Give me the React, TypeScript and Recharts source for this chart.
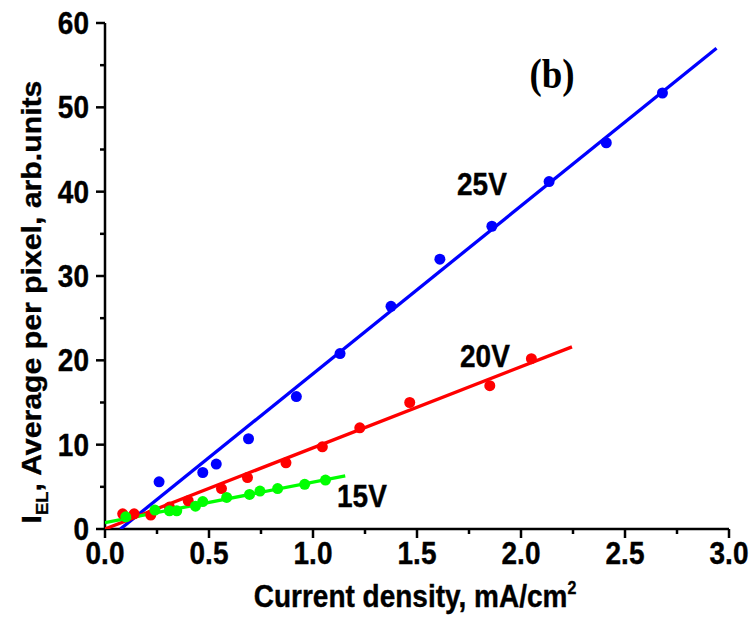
import React from 'react'
import { ScatterChart, Scatter, XAxis, YAxis } from 'recharts'

const blueX = [0.26, 0.47, 0.535, 0.69, 0.92, 1.13, 1.375, 1.61, 1.86, 2.135, 2.41, 2.68]
const blueY = [5.6, 6.7, 7.7, 10.7, 15.7, 20.8, 26.4, 32.0, 35.9, 41.2, 45.8, 51.7]
const redX = [0.085, 0.14, 0.22, 0.31, 0.4, 0.56, 0.685, 0.87, 1.045, 1.225, 1.465, 1.85, 2.05]
const redY = [1.8, 1.8, 1.65, 2.6, 3.35, 4.8, 6.1, 7.85, 9.75, 12.0, 15.0, 17.0, 20.2]
const greenX = [0.1, 0.24, 0.31, 0.345, 0.435, 0.47, 0.585, 0.695, 0.745, 0.83, 0.96, 1.06]
const greenY = [1.45, 2.25, 2.15, 2.15, 2.7, 3.25, 3.75, 4.1, 4.5, 4.8, 5.3, 5.8]

// linear fits (end points)
const blueFitX = [0.074, 2.94]
const blueFitY = [0, 57.0]
const redFitX = [0, 2.245]
const redFitY = [0, 21.6]
const greenFitX = [0, 1.155]
const greenFitY = [0.75, 6.3]

const xTicks = [0, 0.25, 0.5, 0.75, 1, 1.25, 1.5, 1.75, 2, 2.25, 2.5, 2.75, 3]
const yTicks = [0, 5, 10, 15, 20, 25, 30, 35, 40, 45, 50, 55, 60]

const zip = (xs: number[], ys: number[]) => xs.map((x, i) => ({ x, y: ys[i] }))

const FONT = "'Liberation Sans', Arial, sans-serif"
const SY = 1.12 // the original figure is a little stretched vertically

// text anchored at its baseline, stretched vertically
const SText = ({ x, y, sx = 1, sy = SY, children, ...rest }: any) => (
  <text
    transform={`translate(${x},${y}) scale(${sx},${sy})`}
    fontFamily={FONT}
    fontWeight="bold"
    fill="#000"
    stroke="#000"
    strokeWidth={0.35}
    {...rest}
  >
    {children}
  </text>
)

const XTick = ({ x, y, payload }: any) => {
  const v = payload.value
  const major = Math.abs(v * 2 - Math.round(v * 2)) < 1e-6
  return (
    <g>
      <line x1={x} x2={x} y1={y} y2={y + (major ? 9 : 5)} stroke="#000" strokeWidth={2.5} />
      {major && (
        <SText x={x} y={y + 35} textAnchor="middle" fontSize={28}>
          {v.toFixed(1)}
        </SText>
      )}
    </g>
  )
}

const YTick = ({ x, y, payload }: any) => {
  const v = payload.value
  const major = v % 10 === 0
  return (
    <g>
      <line x1={x} x2={x - (major ? 9 : 5)} y1={y} y2={y} stroke="#000" strokeWidth={2.5} />
      {major && (
        <SText x={x - 16} y={y + 11} textAnchor="end" fontSize={28}>
          {v}
        </SText>
      )}
    </g>
  )
}

const noDot = () => <g />

export default function App() {
  return (
    <div style={{ position: 'absolute', left: 0, top: 0, width: 749, height: 631, background: '#fff' }}>
      <ScatterChart width={749} height={631} margin={{ top: 23, right: 20, bottom: 0, left: 0 }}>
        <XAxis
          type="number"
          dataKey="x"
          domain={[0, 3]}
          ticks={xTicks}
          interval={0}
          height={102}
          tickSize={0}
          tickMargin={0}
          tickLine={false}
          axisLine={{ stroke: '#000', strokeWidth: 2.5 }}
          tick={<XTick />}
          allowDataOverflow
        />
        <YAxis
          type="number"
          dataKey="y"
          domain={[0, 60]}
          ticks={yTicks}
          interval={0}
          width={105}
          tickSize={0}
          tickMargin={0}
          tickLine={false}
          axisLine={{ stroke: '#000', strokeWidth: 2.5 }}
          tick={<YTick />}
          allowDataOverflow
        />
        <Scatter data={zip(blueFitX, blueFitY)} line={{ stroke: '#0000ff', strokeWidth: 3.3 }} shape={noDot} isAnimationActive={false} />
        <Scatter data={zip(redFitX, redFitY)} line={{ stroke: '#ff0000', strokeWidth: 3.3 }} shape={noDot} isAnimationActive={false} />
        <Scatter data={zip(greenFitX, greenFitY)} line={{ stroke: '#00ff00', strokeWidth: 3.3 }} shape={noDot} isAnimationActive={false} />
        <Scatter data={zip(redX, redY)} fill="#ff0000" shape={(p: any) => <circle cx={p.cx} cy={p.cy} r={5.5} fill="#ff0000" />} isAnimationActive={false} />
        <Scatter data={zip(greenX, greenY)} fill="#00ff00" shape={(p: any) => <circle cx={p.cx} cy={p.cy} r={5.5} fill="#00ff00" />} isAnimationActive={false} />
        <Scatter data={zip(blueX, blueY)} fill="#0000ff" shape={(p: any) => <circle cx={p.cx} cy={p.cy} r={5.5} fill="#0000ff" />} isAnimationActive={false} />
      </ScatterChart>
      <svg width={749} height={631} style={{ position: 'absolute', left: 0, top: 0, pointerEvents: 'none' }}>
        <SText x={457} y={195} fontSize={28}>25V</SText>
        <SText x={460} y={367} fontSize={28}>20V</SText>
        <SText x={337} y={507} fontSize={28}>15V</SText>
        <SText x={415} y={607} fontSize={28} textAnchor="middle">
          Current density, mA/cm<tspan dy={-12} fontSize={16}>2</tspan>
        </SText>
        <text
          transform="translate(41,302) rotate(-90) scale(1.08,1)"
          textAnchor="middle"
          fontFamily={FONT}
          fontWeight="bold"
          fontSize={28}
          fill="#000"
          stroke="#000"
          strokeWidth={0.35}
        >
          I<tspan dy={7} fontSize={17}>EL</tspan>
          <tspan dy={-7}>, Average per pixel, arb.units</tspan>
        </text>
        <SText
          x={552}
          y={88}
          textAnchor="middle"
          fontFamily="'Liberation Serif', 'Times New Roman', serif"
          strokeWidth={0}
          fontSize={37}
        >
          (b)
        </SText>
      </svg>
    </div>
  )
}
